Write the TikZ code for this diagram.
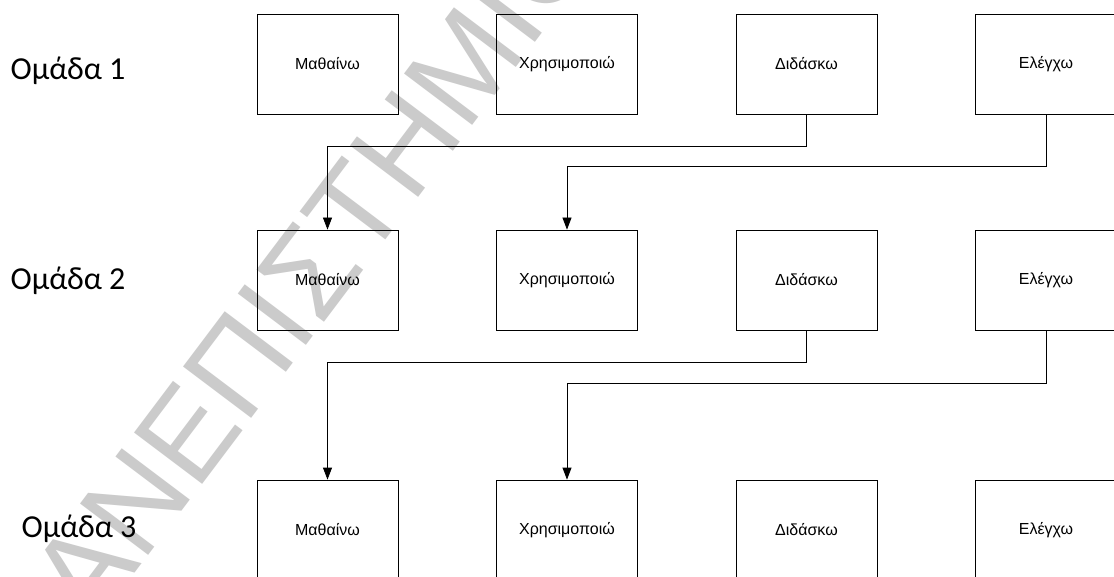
\documentclass[tikz,border=0pt]{standalone}
\usepackage{fontspec}
\setmainfont{Liberation Sans}
\newfontfamily\labelfont{Carlito}
\usetikzlibrary{arrows.meta}
\definecolor{wmgray}{RGB}{203,203,203}
\begin{document}
\begin{tikzpicture}[x=1pt,y=-1pt,
  box/.style={draw=black, line width=0.8pt, minimum width=141pt, minimum height=100pt, inner sep=0pt, font=\fontsize{16}{19}\selectfont},
  grp/.style={anchor=base west, inner sep=0pt, font=\labelfont\fontsize{32}{38}\selectfont},
  arr/.style={draw=black, line width=0.8pt, -{Triangle[length=12pt,width=9pt]}},
  wmark/.style={rotate=53, text=wmgray, inner sep=0pt, font=\fontsize{124}{124}\selectfont}]
\useasboundingbox (0,0) rectangle (1114,577);
\clip (0,0) rectangle (1114,577);
\fill[white] (0,0) rectangle (1114,577);
% watermark
\node[wmark] (wm) at (288.7,298.3) {ΠΑΝΕΠΙΣΤΗΜΙΟ};
% group labels
\node[grp] (g1) at (10.5,79.3) {Ομάδα 1};
\node[grp] (g2) at (10.5,289.3) {Ομάδα 2};
\node[grp] (g3) at (21.5,537.3) {Ομάδα 3};
% row 1
\node[box] (m1) at (327.5,64) {Μαθαίνω};
\node[box] (c1) at (567,64) {Χρησιμοποιώ};
\node[box] (d1) at (806.5,64) {Διδάσκω};
\node[box] (e1) at (1046,64) {Ελέγχω};
% row 2
\node[box] (m2) at (327.5,280) {Μαθαίνω};
\node[box] (c2) at (567,280) {Χρησιμοποιώ};
\node[box] (d2) at (806.5,280) {Διδάσκω};
\node[box] (e2) at (1046,280) {Ελέγχω};
% row 3
\node[box] (m3) at (327.5,530) {Μαθαίνω};
\node[box] (c3) at (567,530) {Χρησιμοποιώ};
\node[box] (d3) at (806.5,530) {Διδάσκω};
\node[box] (e3) at (1046,530) {Ελέγχω};
% connectors
\draw[arr] (d1.south) -- ++(0,31.7) -| (m2.north);
\draw[arr] (e1.south) -- ++(0,52.5) -| (c2.north);
\draw[arr] (d2.south) -- ++(0,32) -| (m3.north);
\draw[arr] (e2.south) -- ++(0,53) -| (c3.north);
\end{tikzpicture}
\end{document}
